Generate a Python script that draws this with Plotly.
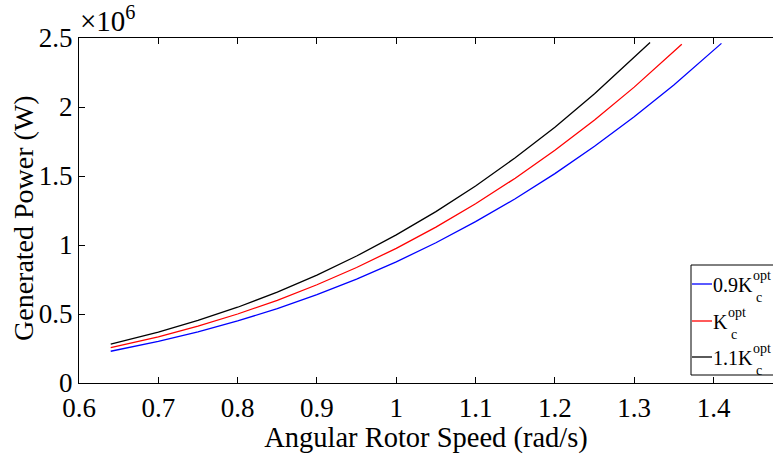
import plotly.graph_objects as go

# Angular rotor speed (rad/s) and generated power (x10^6 W)
speed_09 = [0.64, 0.70, 0.75, 0.80, 0.85, 0.90, 0.95, 1.00, 1.05, 1.10, 1.15, 1.20, 1.25, 1.30, 1.35, 1.41]
power_09 = [0.230, 0.301, 0.370, 0.450, 0.539, 0.640, 0.753, 0.878, 1.016, 1.169, 1.335, 1.517, 1.715, 1.929, 2.160, 2.461]

speed_10 = [0.64, 0.70, 0.75, 0.80, 0.85, 0.90, 0.95, 1.00, 1.05, 1.10, 1.15, 1.20, 1.25, 1.30, 1.36]
power_10 = [0.256, 0.335, 0.412, 0.500, 0.599, 0.712, 0.837, 0.976, 1.130, 1.299, 1.484, 1.687, 1.906, 2.144, 2.455]

speed_11 = [0.64, 0.70, 0.75, 0.80, 0.85, 0.90, 0.95, 1.00, 1.05, 1.10, 1.15, 1.20, 1.25, 1.30, 1.32]
power_11 = [0.281, 0.368, 0.453, 0.549, 0.659, 0.782, 0.920, 1.073, 1.242, 1.428, 1.632, 1.854, 2.096, 2.357, 2.468]

x_ticks = [0.6, 0.7, 0.8, 0.9, 1.0, 1.1, 1.2, 1.3, 1.4]
x_tick_labels = ["0.6", "0.7", "0.8", "0.9", "1", "1.1", "1.2", "1.3", "1.4"]
y_ticks = [0, 0.5, 1, 1.5, 2, 2.5]
y_tick_labels = ["0", "0.5", "1", "1.5", "2", "2.5"]

legend_prefix = ["0.9K", "K", "1.1K"]
legend_sub = "c"
legend_sup = "opt"
colors = ["#0000ff", "#ff0000", "#000000"]

font_family = "Liberation Serif, Times New Roman, serif"

W, H = 773, 455
ML, MR, MT, MB = 79, 0, 38, 72
pw = W - ML - MR
ph = H - MT - MB


def px(x):
    return (x - ML) / pw


def py(y):
    return (H - MB - y) / ph


fig = go.Figure()
for xs, ys, nm, c in zip([speed_09, speed_10, speed_11], [power_09, power_10, power_11], legend_prefix, colors):
    fig.add_trace(go.Scatter(x=xs, y=ys, mode="lines", name=nm + "c opt", showlegend=False,
                             line=dict(color=c, width=1.3)))

annotations = [
    dict(text="×10<sup>6</sup>", x=0.0, y=1.0, xref="paper", yref="paper",
         showarrow=False, font=dict(family=font_family, size=29),
         xanchor="left", yanchor="bottom", borderpad=0),
    dict(text="Generated Power (W)", x=px(23), y=py(218), xref="paper", yref="paper",
         showarrow=False, textangle=-90, font=dict(family=font_family, size=28),
         xanchor="center", yanchor="middle"),
]
shapes = [
    dict(type="rect", xref="paper", yref="paper", x0=px(691), x1=px(790), y0=py(375), y1=py(265),
         line=dict(color="black", width=1), fillcolor="white", layer="above"),
]

# manual legend (stacked sub/superscript as in the original)
row_y = [284, 321, 357]
wmap = {"0.9K": 40, "K": 15, "1.1K": 40}
for pre, c, yy in zip(legend_prefix, colors, row_y):
    shapes.append(dict(type="line", xref="paper", yref="paper", x0=px(692), x1=px(712),
                       y0=py(yy), y1=py(yy), line=dict(color=c, width=1.3), layer="above"))
    annotations.append(dict(text=pre, x=px(712), y=py(yy + 1), xref="paper", yref="paper", showarrow=False,
                            font=dict(family=font_family, size=20), xanchor="left", yanchor="middle",
                            borderpad=0))
    xs = 712 + wmap[pre]
    annotations.append(dict(text=legend_sup, x=px(xs), y=py(yy - 9), xref="paper", yref="paper",
                            showarrow=False, font=dict(family=font_family, size=14),
                            xanchor="left", yanchor="middle", borderpad=0))
    annotations.append(dict(text=legend_sub, x=px(xs + 3), y=py(yy + 13), xref="paper", yref="paper",
                            showarrow=False, font=dict(family=font_family, size=14),
                            xanchor="left", yanchor="middle", borderpad=0))

fig.update_layout(
    width=W, height=H,
    margin=dict(l=ML, r=MR, t=MT, b=MB, autoexpand=False),
    paper_bgcolor="white", plot_bgcolor="white",
    font=dict(family=font_family, size=24, color="black"),
    showlegend=False,
    xaxis=dict(range=[0.6, 1.475], tickmode="array", tickvals=x_ticks, ticktext=x_tick_labels,
               ticks="inside", ticklen=6, tickcolor="black", showline=True, linecolor="black",
               linewidth=1.2, mirror="ticks", showgrid=False, zeroline=False,
               tickfont=dict(family=font_family, size=27),
               title=dict(text="Angular Rotor Speed (rad/s)", font=dict(family=font_family, size=28.5), standoff=4)),
    yaxis=dict(range=[0, 2.5], tickmode="array", tickvals=y_ticks, ticktext=y_tick_labels,
               ticks="inside", ticklen=6, tickcolor="black", showline=True, linecolor="black",
               linewidth=1.2, mirror=False, showgrid=False, zeroline=False,
               tickfont=dict(family=font_family, size=27)),
    annotations=annotations,
    shapes=shapes,
)

fig.write_html("out.html")
